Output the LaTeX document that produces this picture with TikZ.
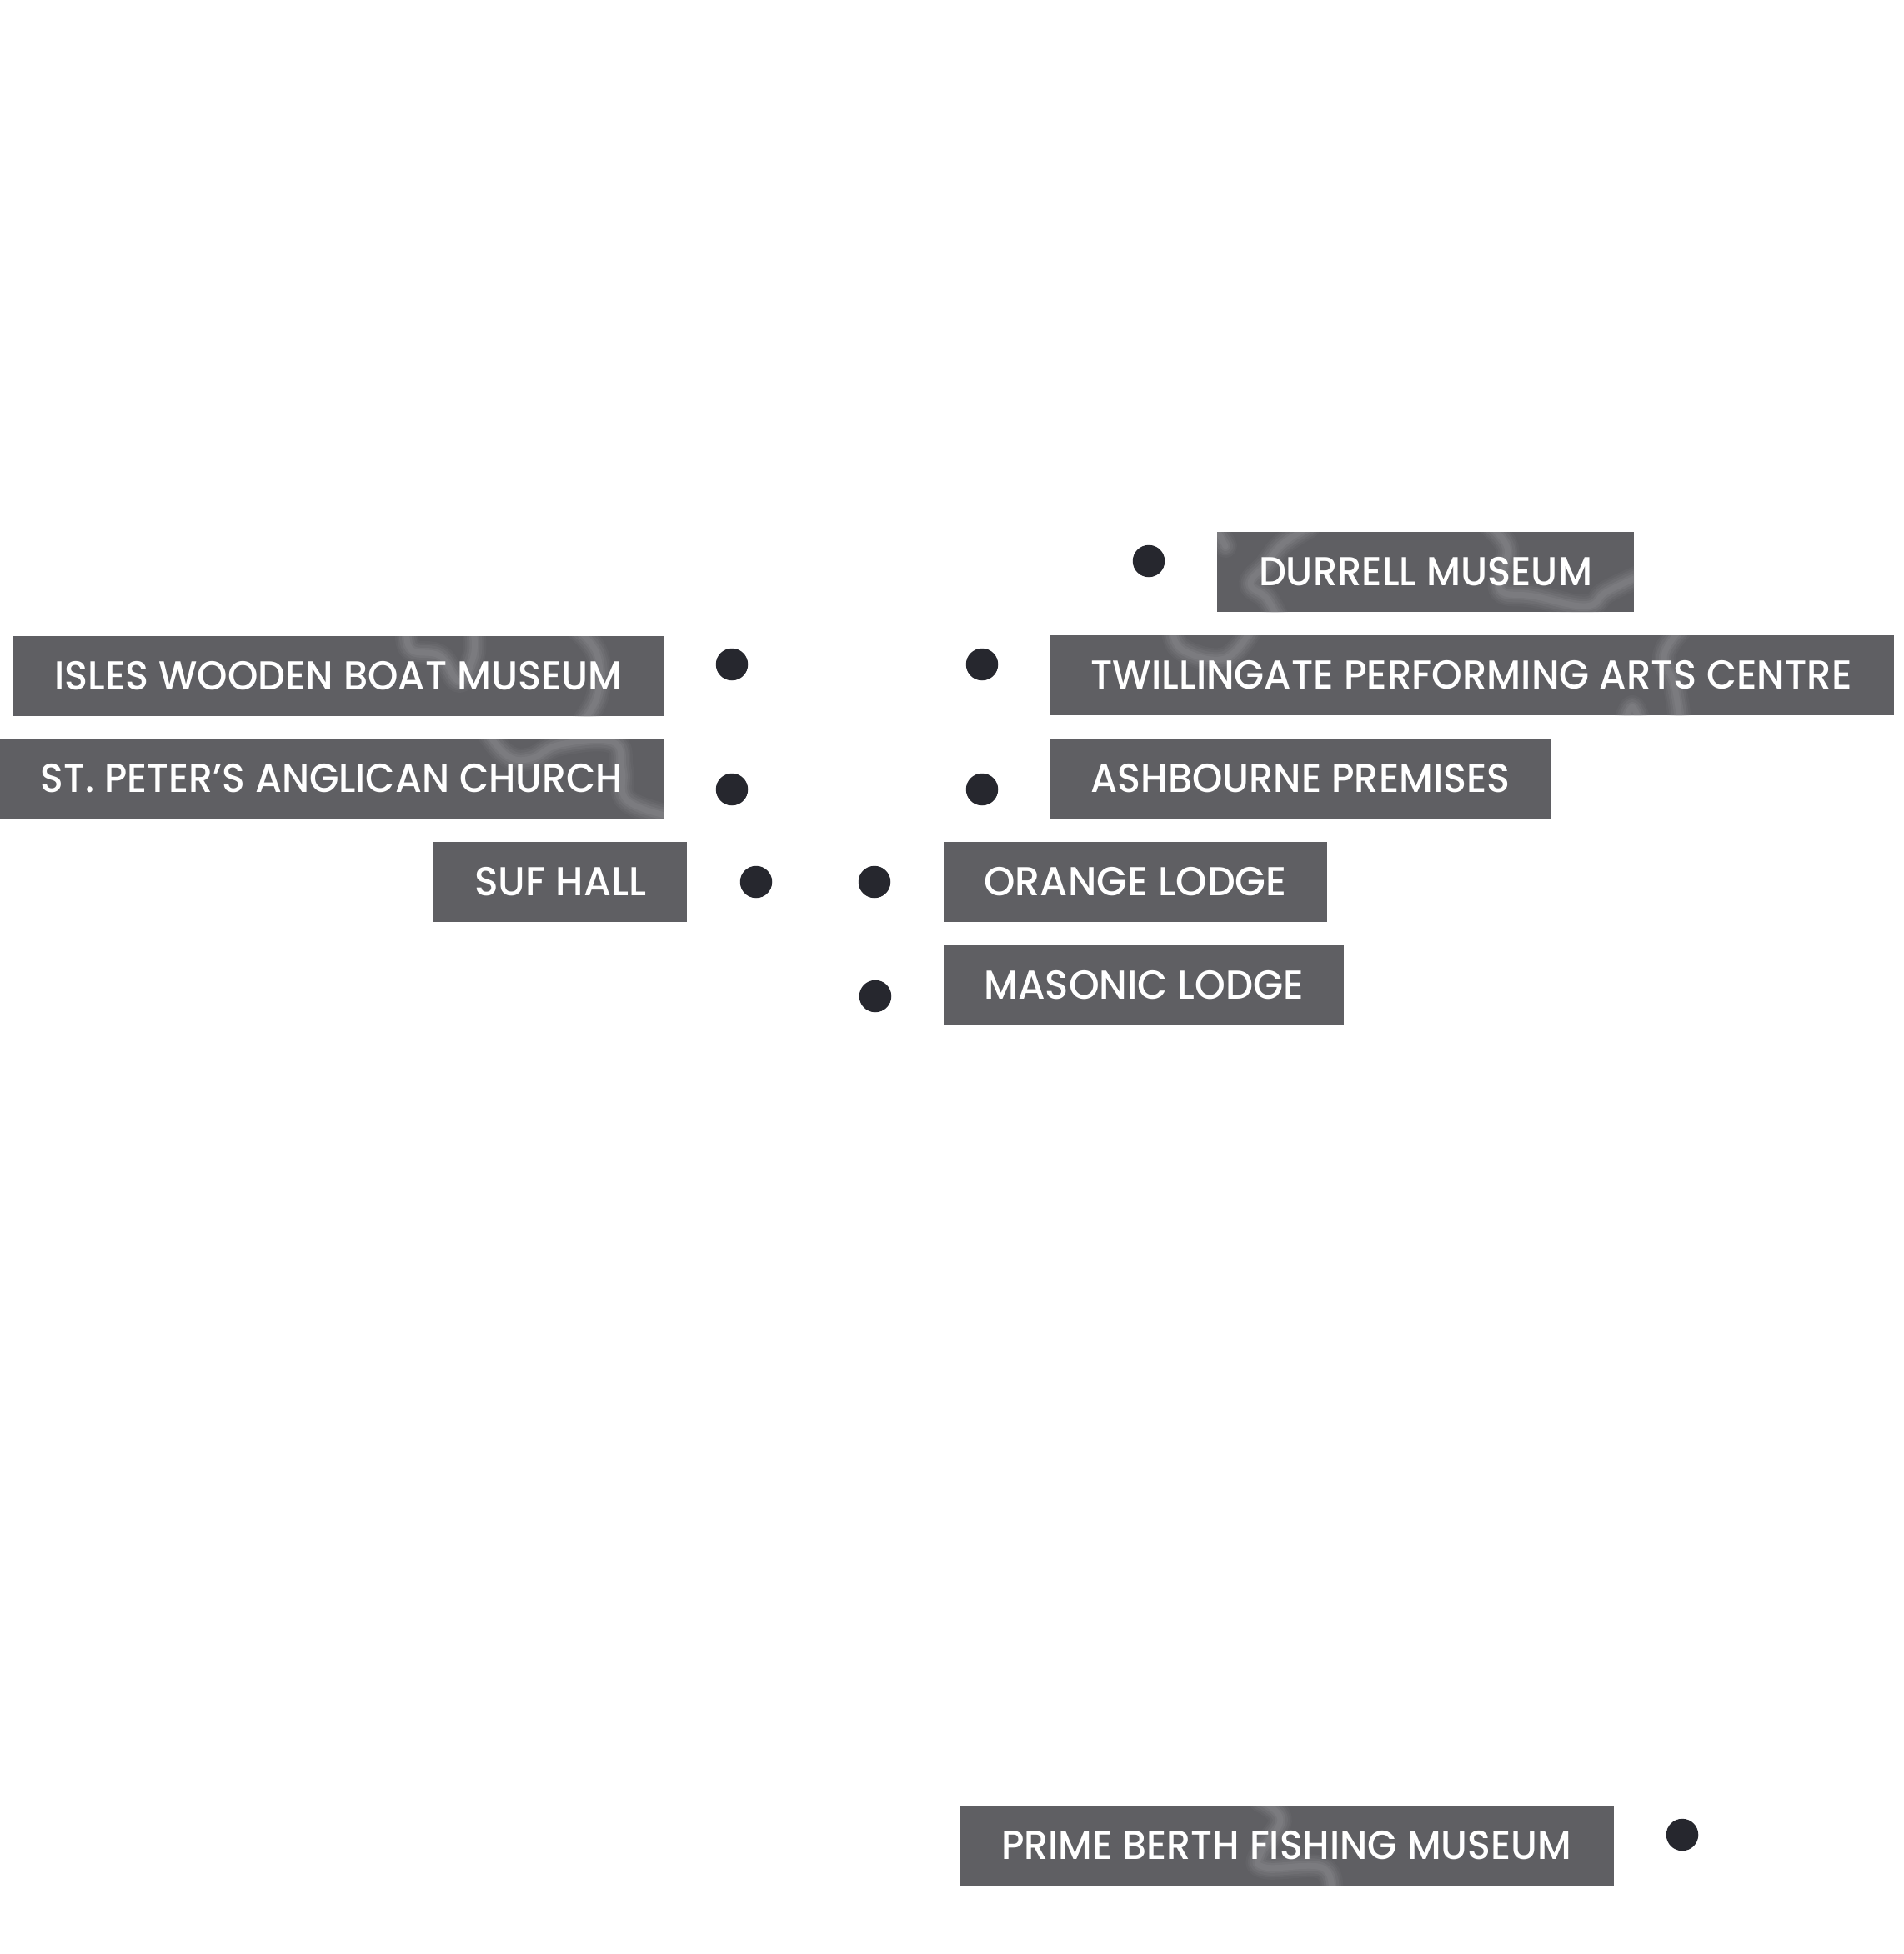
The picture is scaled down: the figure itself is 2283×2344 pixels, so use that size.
\documentclass[tikz,border=0pt]{standalone}
\usepackage{fontspec}
\usepackage{graphicx}
\setmainfont{Poppins}[UprightFont=* Medium]
\definecolor{boxgray}{HTML}{5F5F63}
\definecolor{dotdark}{HTML}{26272E}
\definecolor{streak}{HTML}{ABABAF}
\tikzset{
  labelbox/.style={fill=boxgray,draw=none,inner sep=0pt,outer sep=0pt,anchor=north west,minimum height=96pt},
  labeltext/.style={text=white,inner sep=0pt,outer sep=0pt,anchor=base,font=\fontsize{48.5}{48.5}\selectfont},
  place/.style={circle,fill=dotdark,draw=none,inner sep=0pt,outer sep=0pt,minimum size=38.5pt},
}
\newcommand{\fitw}[2]{\resizebox{#1pt}{\height}{#2}}
\newcommand{\streaks}[2]{%
  \begin{scope}
    \clip (#1.north west) rectangle (#1.south east);
    \foreach \w/\o in {28/0.06,23/0.08,18/0.10,12/0.12,7/0.12}{
      \foreach \p in {#2}{
        \draw[streak,line width=\w pt,opacity=\o,line cap=round,line join=round] plot[smooth,tension=0.7] coordinates {\p};
      }
    }
  \end{scope}}
\begin{document}
\begin{tikzpicture}[x=1pt,y=-1pt]
\useasboundingbox[fill=white] (0,0) rectangle (2283,2344);
% boxes
\node[labelbox,minimum width=500pt] (bdurrell) at (1460,638) {};
\node[labelbox,minimum width=1012pt] (btwill) at (1260,762) {};
\node[labelbox,minimum width=600pt] (bash) at (1260,886) {};
\node[labelbox,minimum width=460pt] (borange) at (1132,1010) {};
\node[labelbox,minimum width=480pt] (bmasonic) at (1132,1134) {};
\node[labelbox,minimum width=780pt] (bisles) at (16,763) {};
\node[labelbox,minimum width=796pt] (bpeter) at (0,886) {};
\node[labelbox,minimum width=304pt] (bsuf) at (520,1010) {};
\node[labelbox,minimum width=784pt] (bprime) at (1152,2166) {};
% blurred coast lines behind the labels
\streaks{bdurrell}{{(1460,636)(1470,655)},{(1570,632)(1538,653)(1519,677)(1500,700)(1519,717)(1532,740)},{(1789,632)(1808,657)(1802,687)(1802,710)(1839,715)(1902,727)(1927,710)(1965,692)}}
\streaks{btwill}{{(1407,756)(1419,780)(1469,790)(1500,756)},{(2015,756)(1996,787)(2008,820)(2015,864)},{(1950,864)(1958,848)(1966,864)}}
\streaks{bisles}{{(488,757)(494,780)(528,787)(551,817)(568,787)(568,757)},{(695,757)(717,787)(717,833)(700,865)}}
\streaks{bpeter}{{(586,880)(609,907)(637,910)(672,893)(735,890)(746,923)(752,960)(802,979)}}
\streaks{bprime}{{(1512,2160)(1536,2183)(1512,2223)(1518,2240)(1585,2240)(1597,2268)}}
% label texts
\node[labeltext] (tdurrell) at ([yshift=-64pt]bdurrell.north) {\fitw{400}{DURRELL MUSEUM}};
\node[labeltext] (ttwill) at ([xshift=-1pt,yshift=-64pt]btwill.north) {\fitw{913}{TWILLINGATE PERFORMING ARTS CENTRE}};
\node[labeltext] (tash) at ([yshift=-64pt]bash.north) {\fitw{503}{ASHBOURNE PREMISES}};
\node[labeltext] (torange) at ([yshift=-64pt]borange.north) {\fitw{363}{ORANGE LODGE}};
\node[labeltext] (tmasonic) at ([yshift=-64pt]bmasonic.north) {\fitw{384}{MASONIC LODGE}};
\node[labeltext] (tisles) at ([yshift=-64pt]bisles.north) {\fitw{681}{ISLES WOODEN BOAT MUSEUM}};
\node[labeltext] (tpeter) at ([yshift=-64pt]bpeter.north) {\fitw{698}{ST. PETER’S ANGLICAN CHURCH}};
\node[labeltext] (tsuf) at ([yshift=-64pt]bsuf.north) {\fitw{206}{SUF HALL}};
\node[labeltext] (tprime) at ([xshift=-1pt,yshift=-64pt]bprime.north) {\fitw{684}{PRIME BERTH FISHING MUSEUM}};
% dots
\node[place] (pdurrell) at (1378,673) {};
\node[place] (ptwill) at (1178,797) {};
\node[place] (pash) at (1178,947) {};
\node[place] (porange) at (1049,1058) {};
\node[place] (pmasonic) at (1050,1195) {};
\node[place] (pisles) at (878,797) {};
\node[place] (ppeter) at (878,947) {};
\node[place] (psuf) at (907,1058) {};
\node[place] (pprime) at (2018,2201) {};
\end{tikzpicture}
\end{document}
